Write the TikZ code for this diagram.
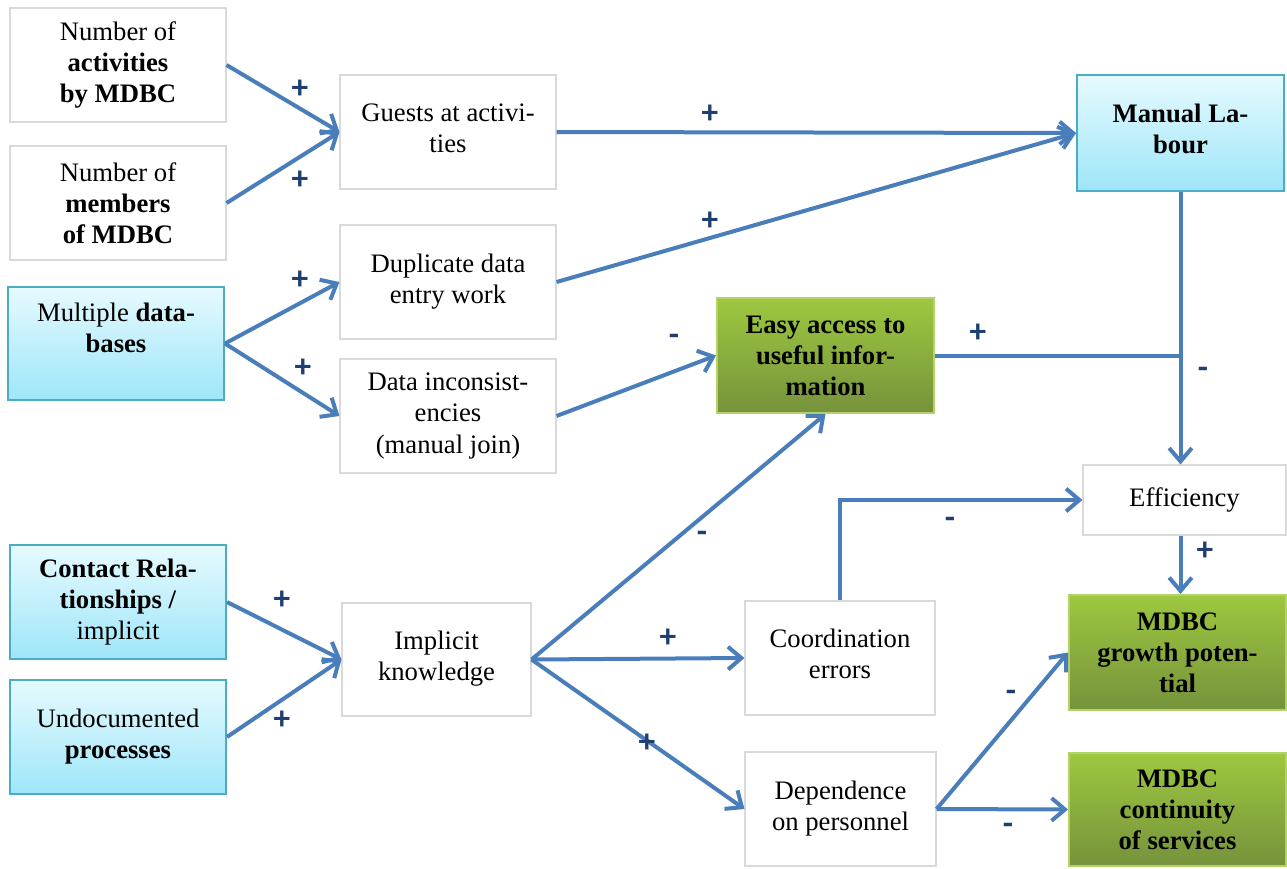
\documentclass[tikz,border=0pt]{standalone}
\usepackage{fontspec}
\setmainfont{Liberation Serif}
\newfontfamily\signfont{Carlito}
\usetikzlibrary{arrows.meta}
\definecolor{linkblue}{HTML}{4A7EBB}
\definecolor{signblue}{HTML}{1F3F73}
\definecolor{plainedge}{HTML}{D9D9D9}
\definecolor{cyanedge}{HTML}{4BACC6}
\definecolor{cyantop}{HTML}{E6FAFE}
\definecolor{cyanbot}{HTML}{9EE6F9}
\definecolor{greenedge}{HTML}{B3D36A}
\definecolor{greentop}{HTML}{9DC83F}
\definecolor{greenbot}{HTML}{76923C}
\tikzset{
  sz/.style 2 args={minimum width={#1*0.75pt}, minimum height={#2*0.75pt}},
  box/.style={rectangle, inner sep=0pt, align=center,
    font=\fontsize{20pt}{23.3pt}\selectfont},
  plain/.style={box, draw=plainedge, line width=0.8pt, fill=white},
  cyanbox/.style={box, draw=cyanedge, line width=1.5pt,
    top color=cyantop, bottom color=cyanbot},
  greenbox/.style={box, draw=greenedge, line width=1.5pt,
    top color=greentop, bottom color=greenbot},
  link/.style={draw=linkblue, line width=3pt,
    -{Straight Barb[length=10pt,width=17pt]}},
  bare/.style={draw=linkblue, line width=3pt},
  sign/.style={text=signblue, inner sep=0pt,
    font=\signfont\bfseries\fontsize{25pt}{25pt}\selectfont}
}
\begin{document}
\begin{tikzpicture}[x=0.75pt,y=-0.75pt]
\useasboundingbox (0,0) rectangle (1287,868);
\fill[white] (0,0) rectangle (1287,868);

% factor boxes
\node[plain, sz={216}{114}] (act) at (118,65) {Number of\\\textbf{activities}\\\textbf{by MDBC}};
\node[plain, sz={216}{114}] (mem) at (118,203) {Number of\\\textbf{members}\\\textbf{of MDBC}};
\node[plain, sz={216}{114}] (guests) at (448,132) {Guests at activi-\\ties\\[-17pt]\mbox{}};
\node[cyanbox, sz={207}{116}] (labour) at (1180.5,133) {\textbf{Manual La-}\\\textbf{bour}\\[-17pt]\mbox{}};
\node[cyanbox, sz={216}{113}] (mdb) at (116,343.5) {Multiple \textbf{data-}\\\textbf{bases}\\\mbox{}};
\node[plain, sz={216}{114}] (dup) at (448,282) {Duplicate data\\entry work};
\node[plain, sz={216}{114}] (incon) at (448,416) {Data inconsist-\\encies\\(manual join)};
\node[greenbox, sz={217}{115}] (easy) at (825.5,355.5) {\textbf{Easy access to}\\\textbf{useful infor-}\\\textbf{mation}};
\node[plain, sz={203}{70}] (eff) at (1184.5,500) {Efficiency};
\node[cyanbox, sz={216}{114}] (contact) at (118,602) {\textbf{Contact Rela-}\\\textbf{tionships /}\\implicit};
\node[cyanbox, sz={216}{114}] (undoc) at (118,737) {Undocumented\\\textbf{processes}};
\node[plain, sz={189}{113}] (implicit) at (436.5,659.5) {Implicit\\knowledge\\[-17pt]\mbox{}};
\node[plain, sz={190}{114}] (coord) at (840,658) {Coordination\\errors\\[-17pt]\mbox{}};
\node[plain, sz={191}{114}] (dep) at (840.5,809) {Dependence\\on personnel};
\node[greenbox, sz={217}{115}] (growth) at (1177.5,652.5) {\textbf{MDBC}\\\textbf{growth poten-}\\\textbf{tial}};
\node[greenbox, sz={217}{113}] (cont) at (1177.5,809.5) {\textbf{MDBC}\\\textbf{continuity}\\\textbf{of services}};

% connectors
\draw[link] (act.east) -- (guests.west);
\draw[link] (mem.east) -- (guests.west);
\draw[link] (guests.east) -- (labour.west);
\draw[link] (dup.east) -- (labour.west);
\draw[link] (mdb.east) -- (dup.west);
\draw[link] (mdb.east) -- (incon.west);
\draw[link] (incon.east) -- (easy.west);
\coordinate (join) at (labour.south |- easy.east);
\draw[bare] (easy.east) -- (join);
\draw[link] (labour.south) -- (labour.south |- eff.north);
\draw[link] (coord.north) |- (eff.west);
\draw[link] (labour.south |- eff.south) -- (labour.south |- growth.north);
\draw[link] (contact.east) -- (implicit.west);
\draw[link] (undoc.east) -- (implicit.west);
\draw[link] (implicit.east) -- (easy.south);
\draw[link] (implicit.east) -- (coord.west);
\draw[link] (implicit.east) -- (dep.west);
\draw[link] (dep.east) -- (growth.west);
\draw[link] (dep.east) -- (cont.west);

% polarity signs
\node[sign] (p1) at (300,89) {+};
\node[sign] (p2) at (300,180) {+};
\node[sign] (p3) at (710,114) {+};
\node[sign] (p4) at (710,221) {+};
\node[sign] (p5) at (300,280) {+};
\node[sign] (p6) at (303,368) {+};
\node[sign] (p7) at (978,333) {+};
\node[sign] (p8) at (668,638) {+};
\node[sign] (p9) at (647,743) {+};
\node[sign] (p10) at (1205,551) {+};
\node[sign] (p11) at (282,600) {+};
\node[sign] (p12) at (282,720) {+};
\node[sign] (m1) at (674,340) {-};
\node[sign] (m2) at (1203,373) {-};
\node[sign] (m3) at (950,523) {-};
\node[sign] (m4) at (702,537) {-};
\node[sign] (m5) at (1011,696) {-};
\node[sign] (m6) at (1008,829) {-};
\end{tikzpicture}
\end{document}
